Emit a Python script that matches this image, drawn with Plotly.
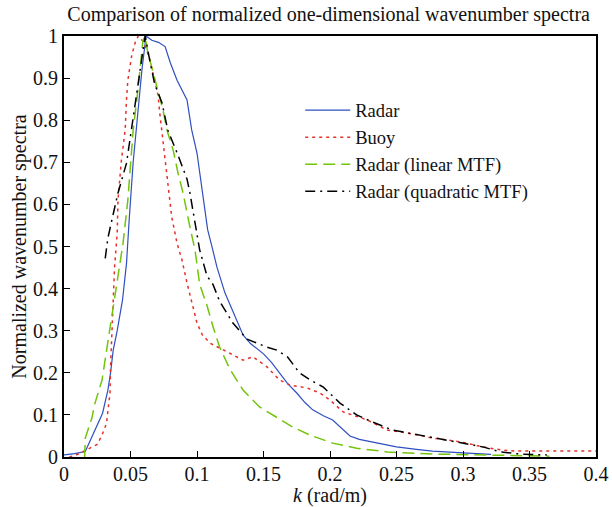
import plotly.graph_objects as go

# Radar (solid blue)
radar_k = [0, 0.008, 0.016, 0.022, 0.029, 0.033, 0.035, 0.037, 0.040, 0.044, 0.047, 0.049, 0.052, 0.055,
           0.0586, 0.0617, 0.066, 0.071, 0.076, 0.080, 0.085, 0.0925, 0.096, 0.1, 0.104, 0.108, 0.112,
           0.115, 0.121, 0.127, 0.1346, 0.14, 0.146, 0.15, 0.156, 0.162, 0.168, 0.175, 0.181, 0.187,
           0.195, 0.202, 0.208, 0.215, 0.222, 0.232, 0.25, 0.265, 0.277, 0.30, 0.318, 0.321]
radar_v = [0.005, 0.008, 0.013, 0.057, 0.104, 0.159, 0.20, 0.254, 0.30, 0.373, 0.46, 0.563, 0.70, 0.80,
           0.92, 1.0, 0.99, 0.985, 0.975, 0.936, 0.895, 0.848, 0.777, 0.722, 0.63, 0.54, 0.49,
           0.451, 0.39, 0.345, 0.29, 0.27, 0.254, 0.245, 0.225, 0.2, 0.175, 0.152, 0.13, 0.112,
           0.098, 0.088, 0.07, 0.05, 0.042, 0.036, 0.024, 0.018, 0.014, 0.01, 0.007, 0.006]

# Buoy (red dotted)
buoy_k = [0.004, 0.01, 0.017, 0.025, 0.0286, 0.032, 0.033, 0.0346, 0.035, 0.036, 0.037, 0.038, 0.040,
          0.0406, 0.043, 0.046, 0.047, 0.048, 0.051, 0.054, 0.056, 0.060, 0.064, 0.067, 0.0707, 0.072,
          0.0744, 0.076, 0.0774, 0.0797, 0.081, 0.085, 0.0887, 0.0925, 0.096, 0.1, 0.104, 0.11, 0.1226,
          0.1346, 0.142, 0.1526, 0.162, 0.17, 0.1827, 0.1925, 0.2, 0.21, 0.228, 0.243, 0.258, 0.2774,
          0.298, 0.315, 0.328, 0.34, 0.37, 0.4]
buoy_v = [0.0, 0.006, 0.017, 0.03, 0.052, 0.08, 0.11, 0.152, 0.214, 0.295, 0.356, 0.45, 0.532,
          0.61, 0.70, 0.777, 0.85, 0.895, 0.955, 0.99, 1.0, 0.985, 0.95, 0.912, 0.86, 0.817,
          0.75, 0.70, 0.67, 0.61, 0.57, 0.508, 0.468, 0.413, 0.366, 0.318, 0.29, 0.27, 0.25,
          0.23, 0.238, 0.214, 0.183, 0.171, 0.164, 0.152, 0.135, 0.107, 0.088, 0.064, 0.057, 0.045,
          0.036, 0.024, 0.017, 0.014, 0.014, 0.014]

# Radar (linear MTF) (green dashed)
lin_k = [0.0155, 0.016, 0.021, 0.0233, 0.0286, 0.032, 0.0346, 0.037, 0.0406, 0.0444, 0.048, 0.050,
         0.052, 0.055, 0.0594, 0.061, 0.063, 0.066, 0.0707, 0.0744, 0.078, 0.082, 0.0857, 0.0895,
         0.0947, 0.0985, 0.102, 0.1075, 0.112, 0.117, 0.125, 0.1346, 0.147, 0.16, 0.172, 0.185,
         0.202, 0.22, 0.243, 0.277, 0.315, 0.365]
lin_v = [0.0, 0.045, 0.093, 0.128, 0.183, 0.254, 0.30, 0.353, 0.437, 0.508, 0.61, 0.70,
         0.777, 0.855, 0.99, 1.0, 0.96, 0.926, 0.872, 0.824, 0.77, 0.73, 0.675, 0.627,
         0.546, 0.492, 0.41, 0.36, 0.31, 0.261, 0.207, 0.159, 0.119, 0.095, 0.071, 0.052,
         0.033, 0.021, 0.012, 0.007, 0.005, 0.002]

# Radar (quadratic MTF) (black dash-dot)
quad_k = [0.031, 0.033, 0.036, 0.0406, 0.047, 0.051, 0.055, 0.0586, 0.061, 0.064, 0.068, 0.0737,
          0.078, 0.0857, 0.0925, 0.0947, 0.0985, 0.102, 0.1075, 0.112, 0.117, 0.127, 0.1376, 0.147,
          0.1526, 0.16, 0.168, 0.177, 0.185, 0.195, 0.2075, 0.22, 0.232, 0.247, 0.273, 0.30, 0.315,
          0.328, 0.343, 0.363]
quad_v = [0.472, 0.52, 0.563, 0.627, 0.698, 0.784, 0.87, 0.95, 1.0, 0.95, 0.888, 0.841,
          0.777, 0.717, 0.66, 0.627, 0.556, 0.492, 0.43, 0.41, 0.37, 0.318, 0.28, 0.268,
          0.261, 0.254, 0.238, 0.2, 0.183, 0.166, 0.128, 0.1, 0.083, 0.064, 0.048, 0.033, 0.024,
          0.012, 0.007, 0.005]

x_ticks = [0, 0.05, 0.1, 0.15, 0.2, 0.25, 0.3, 0.35, 0.4]
x_tick_text = ["0", "0.05", "0.1", "0.15", "0.2", "0.25", "0.3", "0.35", "0.4"]
y_ticks = [0, 0.1, 0.2, 0.3, 0.4, 0.5, 0.6, 0.7, 0.8, 0.9, 1]
y_tick_text = ["0", "0.1", "0.2", "0.3", "0.4", "0.5", "0.6", "0.7", "0.8", "0.9", "1"]

FONT = "Liberation Serif, Times New Roman, serif"
TXT = "#111111"

fig = go.Figure()
fig.add_trace(go.Scatter(x=radar_k, y=radar_v, mode="lines", name="Radar",
                         line=dict(color="#2f4fbf", width=1.2)))
fig.add_trace(go.Scatter(x=buoy_k, y=buoy_v, mode="lines", name="Buoy",
                         line=dict(color="#e8302a", width=1.5, dash="3px,4px")))
fig.add_trace(go.Scatter(x=lin_k, y=lin_v, mode="lines", name="Radar (linear MTF)",
                         line=dict(color="#72c40a", width=1.5, dash="12px,6px")))
fig.add_trace(go.Scatter(x=quad_k, y=quad_v, mode="lines", name="Radar (quadratic MTF)",
                         line=dict(color="#000000", width=1.5, dash="10px,5px,2px,5px")))

fig.update_layout(
    width=612, height=507,
    margin=dict(l=64, r=16, t=36, b=50, autoexpand=False),
    paper_bgcolor="white", plot_bgcolor="white",
    font=dict(family=FONT, size=20, color=TXT),
    title=dict(text="Comparison of normalized one-dimensional wavenumber spectra",
               x=0.537, xref="container", xanchor="center", y=0.972, yref="container", yanchor="middle",
               font=dict(family=FONT, size=20, color=TXT)),
    showlegend=True,
    legend=dict(x=0.444, y=0.868, xanchor="left", yanchor="top",
                bgcolor="rgba(0,0,0,0)", borderwidth=0,
                font=dict(family=FONT, size=18.5, color=TXT),
                tracegroupgap=0, itemwidth=45),
)
fig.update_xaxes(range=[0, 0.4], tickvals=x_ticks, ticktext=x_tick_text, automargin=False,
                 ticks="inside", ticklen=6, tickwidth=1.2, tickcolor="black",
                 showline=True, linecolor="black", linewidth=2, mirror=True,
                 showgrid=False, zeroline=False, ticklabelstandoff=-2,
                 tickfont=dict(family=FONT, size=20, color=TXT),
                 title=dict(text="<i>k</i> (rad/m)", font=dict(family=FONT, size=20, color=TXT), standoff=2))
fig.update_yaxes(range=[0, 1], tickvals=y_ticks, ticktext=y_tick_text, automargin=False,
                 ticks="inside", ticklen=6, tickwidth=1.2, tickcolor="black",
                 showline=True, linecolor="black", linewidth=2, mirror=True,
                 showgrid=False, zeroline=False,
                 tickfont=dict(family=FONT, size=20, color=TXT),
                 title=dict(text="Normalized wavenumber spectra", font=dict(family=FONT, size=20, color=TXT), standoff=1))

fig.write_html("out.html", config={"displayModeBar": False},
               post_script="document.body.style.margin='0';")
